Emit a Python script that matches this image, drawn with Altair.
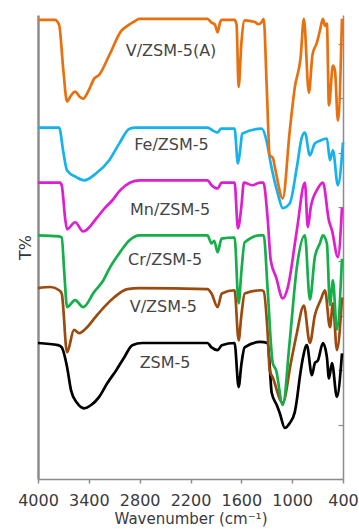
import altair as alt
import pandas as pd

# ---------------- data ----------------
x_ticks = [4000, 3400, 2800, 2200, 1600, 1000, 400]
y_ticks = [0, 10, 20, 30, 40, 50, 60, 70, 80]

black_wn = [4000, 3763, 3720, 3657, 3610, 3540, 3455, 3372, 3278, 3183,
            3076, 2981, 2887, 2770, 2000, 1952, 1880, 1830, 1680, 1632,
            1600, 1561, 1380, 1289, 1241, 1182, 1146, 1087, 1028, 969,
            945, 910, 874, 827, 767, 732, 696, 637, 590, 566,
            530, 472, 412]
black_t = [25.0, 24.6, 24.2, 20.6, 16.3, 14.0, 13.0, 13.6, 15.1, 17.6,
           20.0, 22.4, 24.6, 25.0, 25.0, 24.2, 23.7, 24.6, 25.0, 16.9,
           21.0, 24.2, 25.2, 25.0, 15.8, 13.6, 12.1, 9.4, 10.3, 12.3,
           14.5, 18.7, 22.2, 24.6, 19.1, 21.3, 21.8, 25.0, 22.4, 18.5,
           21.3, 15.1, 23.1]

brown_wn = [4000, 3850, 3751, 3720, 3657, 3575, 3515, 3420, 3325, 3220,
            3100, 2946, 2800, 2000, 1952, 1880, 1830, 1680, 1632, 1600,
            1560, 1360, 1336, 1290, 1265, 1230, 1111, 1016, 945, 862,
            791, 732, 661, 613, 554, 519, 472, 412]
brown_t = [35.1, 35.3, 34.7, 34.1, 23.3, 27.4, 26.8, 27.9, 29.7, 31.6,
           33.4, 34.9, 35.1, 34.9, 34.1, 31.6, 34.1, 34.7, 25.5, 30.0,
           34.1, 34.7, 34.5, 27.0, 20.0, 18.7, 14.0, 21.3, 26.8, 31.9,
           25.0, 30.1, 33.0, 34.7, 27.9, 32.3, 23.7, 33.4]

green_wn = [4000, 3751, 3720, 3690, 3657, 3562, 3467, 3337, 3230, 3150,
            3040, 2920, 2800, 2000, 1952, 1920, 1880, 1833, 1680, 1632,
            1600, 1561, 1380, 1336, 1290, 1229, 1190, 1111, 1028, 945,
            850, 791, 732, 673, 637, 590, 554, 519, 472, 412]
green_t = [44.8, 44.6, 44.4, 38.0, 31.6, 32.9, 31.6, 34.4, 36.5, 38.9,
           41.5, 43.9, 44.8, 44.8, 43.3, 43.8, 41.7, 44.2, 44.4, 32.3,
           38.0, 43.5, 44.8, 44.8, 35.0, 21.3, 20.0, 13.6, 25.5, 38.9,
           44.8, 33.0, 40.8, 43.3, 44.8, 43.3, 32.0, 36.5, 27.5, 40.5]

mag_wn = [4000, 3740, 3720, 3680, 3657, 3562, 3467, 3301, 3207, 3124,
          3029, 2910, 2800, 2000, 1952, 1880, 1833, 1680, 1640, 1600,
          1570, 1470, 1380, 1340, 1290, 1253, 1190, 1111, 1052, 945,
          850, 815, 780, 708, 637, 566, 530, 460, 412]
mag_t = [54.5, 54.5, 54.0, 48.0, 45.9, 47.2, 45.5, 48.1, 49.9, 51.2,
         53.1, 54.5, 54.9, 54.9, 54.0, 53.4, 54.5, 54.5, 46.1, 50.0,
         54.5, 54.0, 54.5, 54.5, 48.0, 40.2, 37.1, 33.2, 35.2, 45.7,
         54.5, 46.3, 50.0, 53.1, 54.5, 47.5, 45.7, 40.8, 49.9]

blue_wn = [4000, 3751, 3700, 3657, 3550, 3455, 3313, 3159, 3040, 2920,
           2850, 2000, 1930, 1880, 1840, 1680, 1640, 1610, 1590, 1360,
           1300, 1253, 1170, 1111, 1028, 945, 886, 850, 791, 732,
           673, 590, 554, 519, 460, 400]
blue_t = [64.6, 64.6, 60.0, 56.7, 55.5, 54.9, 56.2, 58.6, 61.7, 64.4,
          64.6, 64.6, 64.0, 63.7, 64.4, 64.4, 58.0, 61.0, 63.5, 64.4,
          62.0, 58.0, 52.5, 49.8, 50.7, 57.3, 62.8, 63.7, 59.5, 61.7,
          62.2, 62.6, 58.6, 60.4, 54.0, 61.9]

orange_wn = [4000, 3800, 3751, 3700, 3657, 3610, 3562, 3510, 3467, 3400,
             3337, 3278, 3159, 3017, 2946, 2863, 2804, 2000, 1952, 1910,
             1880, 1850, 1833, 1680, 1656, 1632, 1600, 1561, 1440, 1400,
             1360, 1336, 1300, 1265, 1229, 1200, 1111, 1028, 969, 900,
             862, 803, 760, 708, 673, 637, 613, 590, 566, 519,
             495, 460, 412]
orange_t = [84.4, 84.4, 83.5, 75.0, 69.4, 70.5, 71.2, 70.3, 69.9, 71.5,
            73.6, 74.3, 77.9, 82.4, 83.3, 84.1, 84.6, 84.6, 83.9, 83.5,
            82.1, 84.0, 84.4, 84.4, 83.5, 72.1, 80.0, 84.3, 84.0, 83.6,
            84.0, 84.6, 72.0, 59.5, 59.1, 57.0, 51.6, 64.1, 72.0, 77.5,
            84.6, 71.0, 78.0, 80.2, 82.4, 84.6, 83.3, 83.7, 68.7, 76.0,
            75.1, 65.9, 84.6]

label_text = ["V/ZSM-5(A)", "Fe/ZSM-5", "Mn/ZSM-5", "Cr/ZSM-5", "V/ZSM-5", "ZSM-5"]
label_wn = [2430, 2425, 2440, 2500, 2520, 2500]
label_t = [78.7, 61.4, 49.4, 40.3, 31.6, 21.3]

# ---------------- chart ----------------
W, H = 305, 464
FONT = "DejaVu Sans"
AXIS_GRAY = "#8c8c8c"
xscale = alt.Scale(domain=[4000, 400], nice=False, zero=False)
yscale = alt.Scale(domain=[0, 85.3], nice=False, zero=False)

series = [
    ("ZSM-5", black_wn, black_t, "#000000"),
    ("V/ZSM-5", brown_wn, brown_t, "#9C4A0E"),
    ("Cr/ZSM-5", green_wn, green_t, "#14AF4A"),
    ("Mn/ZSM-5", mag_wn, mag_t, "#DE1FCF"),
    ("Fe/ZSM-5", blue_wn, blue_t, "#15B2EE"),
    ("V/ZSM-5(A)", orange_wn, orange_t, "#E8700F"),
]

layers = []
for k, (name, wn, t, col) in enumerate(series):
    df = pd.DataFrame({"wn": wn, "t": t, "i": list(range(len(wn)))})
    if k == 0:
        xax = alt.Axis(values=x_ticks, format="d", grid=False, domainColor=AXIS_GRAY,
                       domainWidth=1.5, tickColor=AXIS_GRAY, tickSize=4, tickWidth=1.5,
                       labelFont=FONT, labelFontSize=16, labelColor="#3a3a3a",
                       labelPadding=9, labelFlush=False, labelOverlap=False,
                       title="Wavenumber (cm\u207b\u00b9)", titleFont=FONT,
                       titleFontSize=15, titleFontWeight="normal", titleColor="#3a3a3a",
                       titlePadding=3)
        yax = alt.Axis(grid=False, ticks=False, labels=False, domainColor=AXIS_GRAY,
                       domainWidth=2.5, title="T%", titleFont=FONT, titleFontSize=16,
                       titleFontWeight="normal", titleColor="#333333", titlePadding=5)
    else:
        xax = None
        yax = None
    layers.append(
        alt.Chart(df).mark_line(color=col, strokeWidth=2.7, strokeJoin="round",
                                interpolate="monotone").encode(
            x=alt.X("wn:Q", scale=xscale, axis=xax),
            y=alt.Y("t:Q", scale=yscale, axis=yax),
            order="i:Q",
        )
    )

lab_df = pd.DataFrame({"label": label_text, "wn": label_wn, "t": label_t})
layers.append(
    alt.Chart(lab_df).mark_text(font=FONT, fontSize=16, color="#454545",
                                align="center", baseline="middle").encode(
        x=alt.X("wn:Q", scale=xscale, axis=None),
        y=alt.Y("t:Q", scale=yscale, axis=None),
        text="label:N",
    )
)

tick_df = pd.DataFrame({"v": y_ticks})
# right border line
layers.append(
    alt.Chart(tick_df).mark_point(opacity=0).encode(
        x=alt.value(0),
        y=alt.Y("v:Q", scale=yscale,
                axis=alt.Axis(orient="right", grid=False, ticks=False, labels=False,
                              domainColor=AXIS_GRAY, domainWidth=1.5, title=None)),
    )
)
# inward ticks along the right border
layers.append(
    alt.Chart(tick_df).mark_point(opacity=0).encode(
        x=alt.value(0),
        y=alt.Y("v:Q", scale=yscale,
                axis=alt.Axis(orient="left", offset=-W, values=y_ticks, grid=False,
                              domain=False, ticks=True, tickSize=5, tickWidth=1.2,
                              tickColor=AXIS_GRAY, labels=False, title=None)),
    )
)

chart = (
    alt.layer(*layers)
    .resolve_axis(x="independent", y="independent")
    .properties(
        width=W,
        height=H,
        autosize=alt.AutoSizeParams(type="none"),
        padding={"left": 38, "top": 15, "right": 16, "bottom": 50},
        background="white",
    )
    .configure_view(stroke=None)
)

chart.save("out.html", embed_options={"renderer": "svg", "actions": False})
